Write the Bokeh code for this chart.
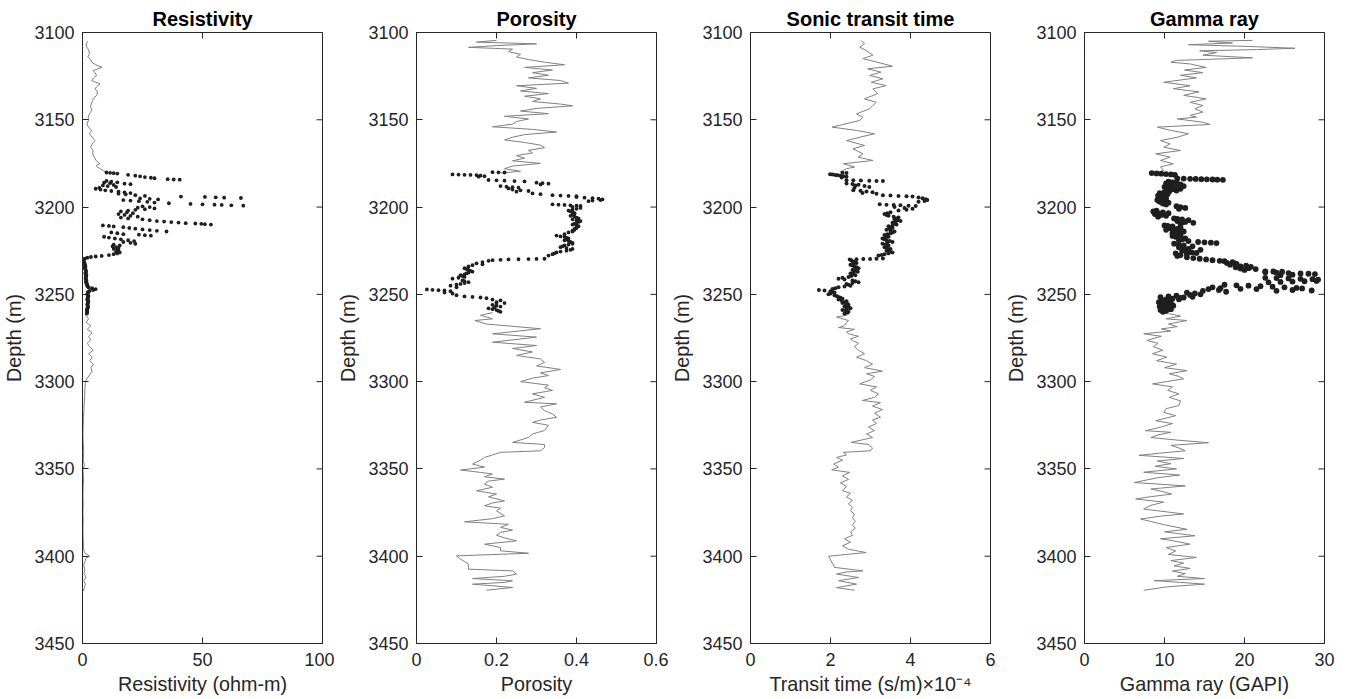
import math
from bokeh.plotting import figure
from bokeh.layouts import row
from bokeh.models import Range1d, FixedTicker
from bokeh.embed import file_html
from bokeh.resources import INLINE

# ---------------- data (depth in m) ----------------
depth_ticks = [3100, 3150, 3200, 3250, 3300, 3350, 3400, 3450]

# Resistivity (ohm-m)
res_upper = [(3105.0, 2.2), (3106.5, 1.5), (3108.4, 1.8), (3110, 2.6), (3112.2, 2.9), (3114, 2.2), (3115.5, 3.4),
             (3117, 3.8), (3118.5, 5.5), (3119.9, 8.2), (3121, 6.0), (3121.8, 4.5), (3123, 5.2), (3124.6, 5.9),
             (3126, 4.6), (3127.5, 3.8), (3128.5, 5.5), (3129.4, 7.3), (3131, 6.0), (3132.3, 5.2), (3134, 6.3),
             (3136.1, 5.9), (3137.5, 4.6), (3139, 4.2), (3141, 3.6), (3142.8, 3.4), (3144.5, 3.9), (3146.6, 2.9),
             (3148.5, 2.4), (3150.4, 2.5), (3152, 1.9), (3153.3, 2.1), (3155, 3.0), (3156.1, 3.8), (3158, 2.9),
             (3160, 4.0), (3161.9, 5.2), (3163.5, 4.1), (3165.7, 3.4), (3167.5, 4.4), (3169.5, 4.2), (3171.5, 5.0),
             (3173.3, 5.6), (3175.2, 7.3), (3176, 5.8), (3177.1, 6.2), (3178, 7.5), (3179.1, 8.6), (3180, 10.0)]
res_lower = [(3261, 1.8), (3262, 1.5), (3264, 2.5), (3266, 1.5), (3268, 3.5), (3270, 2.0), (3272, 4.0), (3274, 2.5),
             (3276, 3.5), (3278, 2.0), (3280, 3.0), (3282, 4.5), (3284, 2.5), (3286, 4.0), (3288, 3.0), (3290, 4.5),
             (3292, 3.5), (3294, 4.0), (3296, 3.0), (3298, 2.0), (3300, 1.2), (3304, 1.0), (3308, 0.9), (3312, 0.7),
             (3316, 0.6), (3320, 0.4), (3325, 0.3), (3330, 0.2), (3335, 0.3), (3340, 0.5), (3345, 0.3), (3348, 0.8),
             (3350, 0.2), (3355, 0.4), (3360, 0.3), (3365, 0.2), (3370, 0.3), (3375, 0.2), (3380, 0.3), (3385, 0.2),
             (3390, 0.3), (3395, 0.4), (3398, 0.8), (3400, 3.0), (3401, 1.5), (3403, 1.0), (3405, 0.5), (3408, 1.0),
             (3410, 0.6), (3412, 1.5), (3414, 0.5), (3416, 1.2), (3418, 0.8), (3420, 0.3)]
res_dots = [(3180.2, 10.0), (3180.4, 11.5), (3180.6, 13.0), (3180.8, 14.5), (3181.5, 19.0), (3182.0, 22.0),
            (3182.4, 24.0), (3182.8, 26.0), (3183.2, 28.5), (3183.5, 30.0), (3184.0, 35.5), (3184.2, 38.0),
            (3184.3, 40.5), (3185.0, 10.0), (3185.4, 12.0), (3185.8, 14.5), (3186.0, 9.0), (3186.3, 11.5),
            (3186.6, 17.5), (3186.9, 20.0), (3187.3, 13.0), (3187.6, 8.5), (3188.0, 10.5), (3188.5, 14.0),
            (3189.0, 7.0), (3189.5, 5.5), (3190.0, 7.5), (3190.4, 9.5), (3190.8, 12.0), (3191.2, 15.0),
            (3191.6, 17.5), (3192.0, 20.0), (3192.3, 15.0), (3192.7, 18.0), (3193.2, 22.0), (3193.6, 26.0),
            (3194.0, 41.0), (3194.2, 51.0), (3194.4, 55.5), (3194.6, 59.0), (3194.8, 66.0), (3195.0, 24.0),
            (3195.3, 28.0), (3195.6, 31.5), (3196.0, 17.0), (3196.3, 20.0), (3196.6, 23.5), (3197.0, 27.0),
            (3197.4, 30.0), (3197.8, 36.0), (3198.2, 45.0), (3198.4, 50.0), (3198.6, 55.0), (3198.8, 58.0),
            (3199.0, 62.0), (3199.2, 67.0), (3199.6, 25.0), (3200.0, 28.0), (3200.4, 23.0), (3200.8, 30.0),
            (3201.2, 26.0), (3201.6, 22.0), (3202.0, 19.0), (3202.5, 16.0), (3203.0, 18.5), (3203.5, 21.0),
            (3204.0, 15.0), (3204.5, 17.5), (3205.0, 20.0), (3205.5, 23.0), (3206.0, 16.0), (3206.5, 19.0),
            (3207.0, 25.0), (3207.5, 28.0), (3208.0, 31.0), (3208.3, 34.0), (3208.6, 37.0), (3208.9, 40.0),
            (3209.2, 43.0), (3209.4, 47.0), (3209.6, 49.5), (3209.8, 51.0), (3210.0, 53.5), (3210.5, 8.5),
            (3210.8, 11.0), (3211.1, 13.0), (3211.5, 17.0), (3212.0, 19.5), (3212.4, 22.0), (3212.8, 25.0),
            (3213.2, 28.0), (3213.6, 31.0), (3214.0, 35.0), (3214.5, 12.0), (3215.0, 14.5), (3215.5, 17.0),
            (3215.8, 23.5), (3216.1, 26.0), (3216.4, 28.5), (3217.0, 9.0), (3217.5, 11.0), (3218.0, 13.5),
            (3218.5, 16.0), (3219.0, 19.0), (3219.5, 21.5), (3220.0, 17.0), (3220.5, 20.0), (3221.0, 22.0),
            (3221.5, 13.0), (3222.0, 15.5), (3222.5, 12.5), (3223.0, 14.0), (3223.5, 15.0), (3224.0, 13.0),
            (3224.5, 14.5), (3225.0, 15.0), (3225.5, 14.0), (3226.0, 15.5), (3226.5, 14.5), (3227.0, 13.0),
            (3227.5, 11.0), (3228.0, 8.0), (3228.3, 5.5), (3228.6, 3.5), (3229.0, 2.0), (3229.5, 1.0),
            (3230.0, 0.5), (3230.5, 0.3), (3231, 0.5), (3231.5, 0.6), (3232, 0.8), (3232.5, 0.9), (3233, 1.0),
            (3233.5, 1.1), (3234, 1.2), (3234.5, 1.1), (3235, 1.0), (3235.5, 1.2), (3236, 1.3), (3236.5, 1.4),
            (3237, 1.5), (3237.5, 1.3), (3238, 1.2), (3238.5, 1.4), (3239, 1.6), (3239.5, 1.5), (3240, 1.4),
            (3240.5, 1.35), (3241, 1.3), (3241.5, 1.45), (3242, 1.6), (3242.5, 1.55), (3243, 1.5), (3243.5, 1.65),
            (3244, 1.8), (3244.5, 1.9), (3245, 2.0), (3245.5, 2.2), (3246, 2.5), (3246.5, 4.0), (3247, 5.5),
            (3247.5, 4.5), (3248, 3.0), (3248.5, 2.5), (3249, 2.2), (3249.5, 2.1), (3250, 2.0), (3250.5, 2.2),
            (3251, 2.5), (3251.5, 2.3), (3252, 2.2), (3252.5, 2.1), (3253, 2.0), (3253.5, 2.2), (3254, 2.4),
            (3254.5, 2.3), (3255, 2.2), (3255.5, 2.1), (3256, 2.0), (3256.5, 2.2), (3257, 2.3), (3257.5, 2.2),
            (3258, 2.1), (3258.5, 1.9), (3259, 1.8), (3259.5, 1.9), (3260, 2.0), (3260.5, 1.9), (3261, 1.8)]

# Porosity (fraction)
por_upper = [(3104.5, 0.20), (3105.5, 0.15), (3106.5, 0.30), (3107.5, 0.20), (3108.5, 0.13), (3109.5, 0.24),
             (3111, 0.23), (3112.5, 0.26), (3114, 0.25), (3115.5, 0.28), (3117, 0.32), (3118.5, 0.37), (3120, 0.27),
             (3121.5, 0.34), (3123, 0.29), (3124.5, 0.33), (3126, 0.28), (3127.5, 0.36), (3129, 0.38), (3130.5, 0.25),
             (3132, 0.30), (3133.5, 0.26), (3135, 0.33), (3136.5, 0.27), (3138, 0.31), (3139.5, 0.29), (3141, 0.36),
             (3142, 0.39), (3143.5, 0.30), (3145, 0.26), (3146.5, 0.33), (3148, 0.22), (3149.5, 0.28), (3151, 0.25),
             (3152.5, 0.24), (3154, 0.19), (3155.5, 0.29), (3157, 0.35), (3158.5, 0.27), (3160, 0.24), (3161.5, 0.22),
             (3163, 0.27), (3164.5, 0.31), (3166, 0.32), (3167.5, 0.28), (3169, 0.29), (3170.5, 0.25), (3172, 0.27),
             (3173.5, 0.24), (3175, 0.31), (3176.5, 0.24), (3178, 0.22), (3179.5, 0.26), (3180.5, 0.21)]
por_lower = [(3260.5, 0.19), (3262, 0.16), (3264, 0.19), (3265, 0.146), (3267, 0.175), (3269.7, 0.31),
             (3272.6, 0.19), (3274.5, 0.30), (3277.4, 0.19), (3279.3, 0.30), (3281, 0.24), (3283, 0.29), (3285, 0.25),
             (3287, 0.31), (3289, 0.32), (3291, 0.30), (3293, 0.36), (3295, 0.31), (3296.5, 0.33), (3298, 0.29),
             (3300, 0.26), (3302, 0.33), (3303.5, 0.32), (3305, 0.34), (3307, 0.29), (3309, 0.32), (3311.8, 0.27),
             (3312.7, 0.35), (3314.5, 0.31), (3316.6, 0.32), (3318.5, 0.34), (3320.4, 0.35), (3322, 0.31),
             (3323.3, 0.29), (3325, 0.33), (3328, 0.32), (3330, 0.29), (3332, 0.28), (3334.8, 0.24), (3336, 0.32),
             (3337.7, 0.32), (3339.6, 0.31), (3340.5, 0.21), (3342, 0.19), (3343.4, 0.17), (3345, 0.16),
             (3347.2, 0.14), (3349, 0.17), (3350.6, 0.11), (3352, 0.16), (3352.9, 0.19), (3354.5, 0.17),
             (3355.8, 0.22), (3357, 0.18), (3358.7, 0.17), (3360.5, 0.19), (3362.5, 0.15), (3364.4, 0.20),
             (3366, 0.18), (3368.3, 0.22), (3369.5, 0.19), (3371.1, 0.17), (3372.5, 0.21), (3374, 0.20),
             (3376.9, 0.22), (3378.5, 0.19), (3380.3, 0.12), (3381.7, 0.23), (3383.5, 0.21), (3385, 0.24),
             (3386.4, 0.21), (3388, 0.20), (3389.5, 0.22), (3391.2, 0.25), (3393.1, 0.17), (3395, 0.21),
             (3396.9, 0.21), (3398.3, 0.28), (3399.8, 0.10), (3401.7, 0.11), (3403, 0.12), (3404.6, 0.13),
             (3406, 0.13), (3407.4, 0.13), (3408.4, 0.24), (3410.3, 0.25), (3411.5, 0.22), (3412.8, 0.14),
             (3414.1, 0.24), (3415, 0.22), (3416, 0.14), (3417.9, 0.24), (3419.5, 0.175)]
por_dots = [(3180.0, 0.19), (3180.1, 0.205), (3180.2, 0.22), (3181.3, 0.09), (3181.4, 0.105), (3181.5, 0.12),
            (3181.6, 0.135), (3181.7, 0.15), (3182.0, 0.16), (3182.3, 0.17), (3182.6, 0.155), (3184.5, 0.18),
            (3184.7, 0.20), (3184.9, 0.22), (3185.1, 0.245), (3185.3, 0.27), (3186.0, 0.30), (3186.3, 0.315),
            (3186.6, 0.33), (3187.0, 0.31), (3188.0, 0.21), (3188.3, 0.225), (3188.6, 0.24), (3188.9, 0.255),
            (3189.3, 0.23), (3190.0, 0.24), (3190.4, 0.26), (3190.8, 0.28), (3191.2, 0.25), (3192.2, 0.29),
            (3192.6, 0.31), (3193.2, 0.34), (3193.4, 0.36), (3193.6, 0.38), (3193.8, 0.40), (3194.3, 0.40),
            (3194.6, 0.42), (3194.9, 0.44), (3195.2, 0.455), (3195.6, 0.465), (3196.0, 0.46), (3196.3, 0.44),
            (3196.6, 0.43), (3198.4, 0.34), (3198.6, 0.355), (3198.8, 0.37), (3199.0, 0.385), (3199.2, 0.40),
            (3199.4, 0.41), (3200.0, 0.39), (3200.5, 0.41), (3201.0, 0.40), (3201.5, 0.39), (3202.0, 0.38),
            (3202.5, 0.385), (3203, 0.39), (3203.5, 0.395), (3204, 0.395), (3204.5, 0.39), (3205, 0.385),
            (3205.5, 0.395), (3206, 0.40), (3206.5, 0.405), (3207, 0.39), (3207.5, 0.40), (3208, 0.41),
            (3208.5, 0.405), (3209, 0.40), (3209.5, 0.395), (3210, 0.39), (3210.5, 0.40), (3211, 0.405),
            (3211.5, 0.40), (3212, 0.40), (3212.5, 0.395), (3213, 0.395), (3213.5, 0.39), (3214, 0.39),
            (3214.5, 0.38), (3215.5, 0.37), (3216.3, 0.35), (3216.8, 0.36), (3217, 0.37), (3217.5, 0.375),
            (3218, 0.38), (3218.5, 0.375), (3219, 0.37), (3219.5, 0.38), (3220, 0.385), (3220.5, 0.39),
            (3221, 0.39), (3221.5, 0.38), (3222, 0.37), (3222.5, 0.365), (3223, 0.36), (3223.5, 0.375),
            (3224, 0.39), (3224.5, 0.385), (3225, 0.375), (3225.5, 0.36), (3226, 0.35), (3226.5, 0.345),
            (3227, 0.34), (3227.8, 0.33), (3229.6, 0.32), (3229.7, 0.30), (3229.8, 0.28), (3229.9, 0.255),
            (3230.0, 0.23), (3230.2, 0.21), (3230.4, 0.19), (3230.8, 0.18), (3231.5, 0.165), (3232.2, 0.15),
            (3232.8, 0.165), (3233.3, 0.14), (3234, 0.13), (3235, 0.12), (3235.5, 0.125), (3236, 0.13),
            (3236.5, 0.135), (3237, 0.14), (3237.5, 0.13), (3238, 0.125), (3238.5, 0.12), (3239, 0.11),
            (3239.5, 0.115), (3240, 0.12), (3240.5, 0.105), (3241, 0.09), (3242, 0.115), (3242.5, 0.12),
            (3243, 0.13), (3243.5, 0.12), (3244, 0.11), (3244.5, 0.10), (3245, 0.085), (3246, 0.10),
            (3247.2, 0.026), (3247.4, 0.04), (3247.6, 0.055), (3247.8, 0.07), (3248.2, 0.085), (3249, 0.07),
            (3249.5, 0.09), (3250.5, 0.10), (3251.2, 0.12), (3251.5, 0.14), (3251.8, 0.16), (3252.2, 0.175),
            (3253, 0.19), (3253.5, 0.21), (3254.5, 0.20), (3255, 0.22), (3255.5, 0.20), (3256, 0.19),
            (3256.5, 0.20), (3257, 0.21), (3257.5, 0.195), (3258, 0.18), (3258.5, 0.19), (3259, 0.20),
            (3259.5, 0.205), (3260, 0.21)]

# Sonic transit time (units of 1e-4 s/m)
dt_upper = [(3104.6, 2.77), (3106.5, 2.85), (3108.4, 2.73), (3110.3, 2.89), (3113, 3.06), (3115, 2.81),
            (3116.9, 3.15), (3119.3, 3.55), (3120.8, 2.93), (3122.7, 3.26), (3124.6, 2.98), (3126.5, 3.31),
            (3128.5, 3.02), (3130.4, 3.39), (3132.3, 3.06), (3135, 3.18), (3138, 2.85), (3140, 3.14),
            (3141.8, 3.06), (3143.7, 2.98), (3146.6, 2.65), (3148.5, 2.81), (3150.4, 2.73), (3154.2, 2.04),
            (3156.1, 2.65), (3158, 3.10), (3160, 2.73), (3161.9, 2.40), (3164.7, 2.85), (3166.6, 2.56),
            (3169.5, 2.81), (3171.4, 2.69), (3173.3, 3.06), (3175.2, 2.32), (3177.1, 2.60), (3178, 2.40),
            (3180, 2.23)]
dt_lower = [(3261.5, 2.35), (3262, 2.40), (3263, 2.15), (3265, 2.45), (3266, 2.40), (3268, 2.35), (3269, 2.20),
            (3270, 2.60), (3271.5, 2.40), (3272.6, 2.45), (3274, 2.70), (3275.5, 2.50), (3276.4, 2.55), (3278, 2.70),
            (3280, 2.60), (3282, 2.70), (3284, 2.85), (3286, 2.65), (3288, 2.90), (3290, 3.05), (3292, 2.85),
            (3294, 3.30), (3295.5, 2.90), (3297, 3.10), (3299, 3.00), (3301.3, 2.73), (3303, 3.15), (3305, 3.00),
            (3307, 3.20), (3309, 3.10), (3310.8, 2.80), (3312, 3.25), (3314, 3.05), (3316, 3.30), (3318, 3.10),
            (3320.4, 3.25), (3322, 3.05), (3324, 3.15), (3326, 2.95), (3328, 3.10), (3330, 2.90), (3332, 3.05),
            (3334.8, 2.52), (3336, 2.95), (3338, 3.05), (3339.6, 3.00), (3340.5, 2.32), (3342, 2.40),
            (3343.4, 2.15), (3345, 2.30), (3347.2, 2.08), (3349, 2.20), (3350.5, 2.03), (3352, 2.48), (3354, 2.30),
            (3356, 2.45), (3358, 2.25), (3360, 2.40), (3362.5, 2.30), (3364, 2.50), (3366, 2.40), (3368, 2.55),
            (3370, 2.45), (3372, 2.55), (3374, 2.50), (3376, 2.60), (3378, 2.55), (3380, 2.62), (3382, 2.55),
            (3384, 2.62), (3386, 2.50), (3388, 2.55), (3390, 2.35), (3392, 2.50), (3394, 2.30), (3396, 2.45),
            (3397.9, 2.89), (3400, 1.95), (3402, 2.00), (3404, 2.05), (3406.4, 2.10), (3408.4, 2.81), (3409, 2.40),
            (3410.2, 2.15), (3412.2, 2.70), (3414, 2.20), (3416, 2.65), (3418, 2.15), (3419.5, 2.60)]
dt_dots = [(3180.3, 2.30), (3180.5, 2.40), (3181.2, 1.99), (3181.4, 2.05), (3181.6, 2.12), (3181.8, 2.18),
           (3182.0, 2.25), (3182.3, 2.32), (3182.6, 2.40), (3183.0, 2.28), (3184.6, 2.40), (3184.7, 2.57),
           (3184.8, 2.76), (3184.9, 2.97), (3185.0, 3.15), (3185.1, 3.31), (3186.5, 2.40), (3186.8, 2.55),
           (3187.2, 2.70), (3187.6, 2.62), (3188.0, 2.85), (3188.5, 2.97), (3189.0, 2.60), (3190.3, 2.57),
           (3190.7, 2.75), (3191.1, 2.90), (3191.5, 3.05), (3191.9, 2.80), (3192.3, 3.15), (3193.2, 3.31),
           (3193.4, 3.50), (3193.6, 3.70), (3193.8, 3.90), (3194.0, 4.05), (3194.5, 4.20), (3195.0, 4.30),
           (3195.5, 4.38), (3196.0, 4.42), (3196.5, 4.35), (3197.0, 4.20), (3198.4, 3.23), (3198.6, 3.40),
           (3198.8, 3.58), (3199.0, 3.75), (3199.2, 3.95), (3199.4, 4.13), (3200.0, 3.60), (3200.5, 3.85),
           (3201.0, 4.05), (3201.5, 3.90), (3202.0, 3.70), (3203, 3.50), (3203.5, 3.42), (3204, 3.35),
           (3204.5, 3.40), (3205, 3.45), (3205.5, 3.58), (3206, 3.70), (3206.5, 3.65), (3207, 3.60),
           (3207.5, 3.68), (3208, 3.75), (3208.5, 3.62), (3209, 3.55), (3209.5, 3.60), (3210, 3.65),
           (3210.5, 3.55), (3211, 3.45), (3211.5, 3.50), (3212, 3.55), (3212.5, 3.48), (3213, 3.40),
           (3213.5, 3.50), (3214, 3.60), (3214.5, 3.55), (3215, 3.50), (3215.5, 3.42), (3216, 3.35),
           (3216.5, 3.40), (3217, 3.45), (3217.5, 3.38), (3218, 3.30), (3218.5, 3.35), (3219, 3.40),
           (3219.5, 3.48), (3220, 3.55), (3220.5, 3.42), (3221, 3.30), (3221.5, 3.38), (3222, 3.45),
           (3222.5, 3.40), (3223, 3.35), (3223.5, 3.42), (3224, 3.50), (3224.5, 3.45), (3225, 3.40),
           (3225.5, 3.48), (3226, 3.55), (3226.5, 3.45), (3227, 3.35), (3227.4, 3.28), (3227.8, 3.20),
           (3229.5, 3.31), (3229.6, 3.15), (3229.7, 2.99), (3229.8, 2.82), (3229.9, 2.65), (3230.0, 2.48),
           (3230.5, 2.52), (3231, 2.55), (3231.5, 2.60), (3232, 2.65), (3232.5, 2.58), (3233, 2.50),
           (3233.5, 2.55), (3234, 2.60), (3234.5, 2.65), (3235, 2.70), (3235.5, 2.62), (3236, 2.55),
           (3236.5, 2.60), (3237, 2.68), (3237.5, 2.58), (3238, 2.50), (3238.5, 2.55), (3239, 2.62),
           (3239.5, 2.52), (3240, 2.45), (3240.5, 2.30), (3241, 2.20), (3241.5, 2.35), (3242, 2.55),
           (3242.5, 2.62), (3243, 2.70), (3243.5, 2.55), (3244, 2.40), (3244.5, 2.45), (3245, 2.50),
           (3245.5, 2.35), (3246, 2.20), (3246.5, 2.12), (3247, 2.05), (3247.5, 1.71), (3247.8, 1.85),
           (3248.2, 2.00), (3248.6, 2.05), (3249, 2.10), (3249.5, 2.00), (3250, 1.95), (3250.5, 2.10),
           (3251, 2.15), (3251.5, 2.20), (3252, 2.25), (3252.5, 2.30), (3253, 2.20), (3253.5, 2.28),
           (3254, 2.40), (3254.5, 2.35), (3255, 2.30), (3255.5, 2.42), (3256, 2.45), (3256.5, 2.38),
           (3257, 2.35), (3257.5, 2.45), (3258, 2.50), (3258.5, 2.40), (3259, 2.30), (3259.5, 2.38),
           (3260, 2.45), (3260.5, 2.42), (3261, 2.35)]

# Gamma ray (GAPI)
gr_upper = [(3104.5, 21.0), (3105, 15.5), (3106, 18.5), (3107, 13.0), (3108, 20.5), (3109, 26.3), (3109.8, 21.5),
            (3110.5, 14.4), (3111.5, 16.5), (3113, 14.8), (3114.5, 21.0), (3116, 11.5), (3117, 10.8), (3118, 13.2),
            (3120, 15.2), (3121.5, 12.5), (3123, 14.8), (3124.5, 12.0), (3126, 14.0), (3128.5, 9.9), (3130.5, 13.2),
            (3132.2, 11.1), (3134, 14.3), (3136, 12.4), (3138, 15.2), (3140, 13.2), (3141.8, 14.8), (3143.7, 13.8),
            (3145.6, 14.8), (3147.5, 13.2), (3148.5, 14.0), (3149.5, 11.6), (3151.4, 14.8), (3152.7, 15.7),
            (3154.2, 9.1), (3156, 10.7), (3158, 13.0), (3160, 11.6), (3161.9, 9.5), (3163.8, 10.7), (3165.7, 9.9),
            (3167.6, 12.0), (3169.5, 8.9), (3171.4, 10.7), (3173.3, 9.5), (3175.2, 11.1), (3177, 9.5), (3179, 9.9),
            (3180.5, 9.0)]
gr_lower = [(3261, 10.5), (3262.5, 12.0), (3264, 10.2), (3265, 12.8), (3267, 10.5), (3268.5, 11.6), (3269.8, 9.6),
            (3271, 10.8), (3272.6, 7.4), (3274, 9.6), (3276.4, 7.8), (3278, 9.2), (3280, 8.6), (3282, 9.8),
            (3284, 8.5), (3286, 10.3), (3288, 9.0), (3290, 11.5), (3292, 10.0), (3293.7, 12.8), (3295.5, 10.6),
            (3297, 11.8), (3298.4, 12.4), (3300, 10.2), (3301.3, 8.5), (3303, 11.0), (3305, 10.4), (3307, 11.8),
            (3309, 10.6), (3311, 12.0), (3313.7, 11.8), (3315.5, 10.2), (3317.6, 9.9), (3319.5, 11.4),
            (3322.4, 8.9), (3324, 11.0), (3326, 9.6), (3328.1, 7.6), (3329, 10.8), (3330.5, 9.2), (3332, 8.3),
            (3333.5, 11.6), (3335, 15.5), (3336.5, 10.8), (3338, 11.8), (3339.6, 12.6), (3341, 9.4), (3342.2, 6.8),
            (3344, 12.4), (3345.5, 9.1), (3347, 10.8), (3348.5, 8.8), (3350, 11.5), (3351.9, 7.4), (3353.5, 11.9),
            (3355, 9.2), (3357.8, 6.2), (3359.7, 12.6), (3361.5, 8.3), (3363, 9.8), (3364.4, 10.9), (3366, 8.1),
            (3367.2, 6.4), (3369, 9.9), (3371, 8.2), (3373, 7.4), (3375.8, 12.4), (3377, 9.6), (3378.7, 7.0),
            (3380, 8.2), (3382, 10.0), (3384.6, 12.8), (3386, 10.0), (3388.3, 13.8), (3390, 9.5), (3391.5, 11.5),
            (3393.1, 13.2), (3395, 10.2), (3397, 11.4), (3399, 10.5), (3400.7, 14.0), (3402.5, 10.8), (3404, 12.4),
            (3405.5, 11.2), (3407, 13.2), (3408.5, 11.0), (3410, 12.6), (3411.5, 11.6), (3412.8, 15.0),
            (3414, 8.7), (3415, 12.0), (3416, 15.0), (3417.5, 10.4), (3419.5, 7.4)]
gr_dots = [(3180.5, 8.4), (3180.7, 9.0), (3180.9, 9.6), (3181.1, 10.2), (3181.3, 10.8), (3181.5, 11.3),
           (3183.6, 11.6), (3183.7, 12.4), (3183.8, 13.2), (3183.9, 13.9), (3184.0, 14.6), (3184.1, 15.3),
           (3184.2, 16.0), (3184.3, 16.6), (3184.4, 17.3), (3185.5, 10.5), (3185.8, 11.0), (3186, 11.5),
           (3186.5, 10.2), (3186.8, 10.8), (3187, 12.0), (3187.5, 11.0), (3187.8, 11.8), (3188, 12.4),
           (3188.5, 10.0), (3188.8, 10.6), (3189, 11.2), (3189.5, 12.0), (3189.8, 11.0), (3190, 10.4),
           (3190.5, 11.5), (3191, 10.6), (3191.5, 10.0), (3192, 9.4), (3192.5, 10.4), (3192.8, 9.6), (3193, 9.8),
           (3193.5, 9.2), (3193.8, 9.6), (3194, 10.0), (3194.5, 9.5), (3194.8, 9.8), (3195, 10.2), (3195.5, 9.6),
           (3195.8, 9.4), (3196, 9.1), (3196.5, 10.0), (3196.8, 9.8), (3197, 9.4), (3197.5, 10.5), (3197.8, 10.0),
           (3198, 9.8), (3198.5, 10.2), (3199.5, 11.5), (3200, 12.0), (3200.5, 12.6), (3201, 11.8), (3202, 9.0),
           (3202.5, 8.6), (3203, 9.8), (3203.5, 10.5), (3203.8, 9.4), (3204, 8.8), (3204.5, 9.6), (3204.8, 9.2),
           (3205, 10.2), (3205.5, 9.2), (3206.5, 11.2), (3206.8, 11.6), (3207, 12.2), (3207.5, 13.0),
           (3208, 11.6), (3208.5, 12.6), (3208.8, 12.2), (3209, 13.6), (3209.5, 12.0), (3210.5, 10.0),
           (3210.8, 10.4), (3211, 11.0), (3211.5, 12.0), (3212, 10.6), (3212.5, 11.6), (3212.8, 11.0),
           (3213, 10.2), (3213.5, 11.2), (3213.8, 11.8), (3214, 12.4), (3215, 11.0), (3215.5, 11.6), (3216, 12.0),
           (3216.5, 11.0), (3217, 11.4), (3217.5, 12.0), (3218, 12.6), (3218.5, 12.2), (3219, 11.8),
           (3219.5, 13.0), (3220, 14.2), (3220.2, 15.0), (3220.4, 15.8), (3220.6, 16.5), (3221, 11.2),
           (3221.5, 11.8), (3222, 12.4), (3222.5, 13.5), (3223, 11.8), (3223.5, 12.4), (3224, 13.0),
           (3224.5, 14.5), (3225, 12.2), (3225.5, 12.8), (3226, 13.4), (3226.3, 14.0), (3226.5, 11.4),
           (3227, 12.8), (3227.5, 12.0), (3228, 11.6), (3228.8, 12.8), (3229.2, 13.6), (3229.6, 14.4),
           (3230, 15.2), (3230.4, 16.0), (3230.8, 16.9), (3231, 17.5), (3231.5, 18.5), (3232, 17.8),
           (3232.2, 18.8), (3232.5, 19.0), (3233, 18.2), (3233.5, 20.2), (3233.8, 19.0), (3234, 19.5),
           (3234.2, 20.8), (3234.5, 18.9), (3235, 20.5), (3235.2, 19.5), (3235.5, 21.4), (3236, 20.0),
           (3236.8, 22.6), (3236.9, 23.6), (3237, 24.7), (3237.4, 22.6), (3237.6, 24.0), (3237.8, 25.5),
           (3238, 27.0), (3238.2, 28.0), (3238.4, 28.8), (3238.7, 26.0), (3239, 24.5), (3240.5, 22.6),
           (3240.7, 24.0), (3240.9, 25.5), (3241.1, 27.0), (3241.3, 28.5), (3241.5, 29.2), (3242.3, 29.0),
           (3242.5, 27.5), (3242.7, 26.0), (3242.9, 24.5), (3243.1, 23.0), (3244.5, 17.5), (3244.8, 19.0),
           (3245, 20.5), (3245.3, 22.0), (3245.6, 23.5), (3246, 25.0), (3246.3, 26.5), (3246.6, 27.2),
           (3247.5, 26.0), (3247.8, 28.4), (3248, 24.0), (3247, 21.5), (3246.8, 19.5), (3246, 16.0),
           (3246.5, 17.0), (3247, 15.5), (3247.5, 16.8), (3248, 14.8), (3248.5, 17.7), (3249, 12.8),
           (3249.5, 13.8), (3250, 14.5), (3250.3, 13.2), (3250.8, 11.5), (3251.2, 10.5), (3251.4, 13.5),
           (3251.6, 9.5), (3251.8, 12.4), (3252, 12.0), (3252.5, 11.0), (3252.8, 11.8), (3253, 10.2),
           (3253.5, 9.8), (3254, 10.5), (3254.2, 10.0), (3254.5, 9.3), (3255, 10.8), (3255.2, 10.2),
           (3255.5, 9.6), (3256, 10.2), (3256.2, 9.6), (3256.5, 11.1), (3257, 9.4), (3257.2, 10.0),
           (3257.5, 10.4), (3258, 9.8), (3258.2, 10.4), (3258.5, 10.8), (3259, 9.5), (3259.2, 10.0),
           (3259.5, 10.2), (3260, 9.8)]

# ---------------- styling ----------------
FONT = "Liberation Sans"
AXC = "#262626"
LINE_C = "#808080"
DOT_C = "#1f1f1f"
Y_TOP, Y_BOTTOM = 3100, 3450


def split(pairs):
    return [p[1] for p in pairs], [p[0] for p in pairs]


def style_axis(ax):
    ax.major_tick_in = 6
    ax.major_tick_out = 0
    ax.minor_tick_line_color = None
    ax.axis_line_color = AXC
    ax.major_tick_line_color = AXC
    ax.major_label_text_color = AXC
    ax.major_label_text_font = FONT
    ax.major_label_text_font_size = "18px"
    ax.axis_label_text_font = FONT
    ax.axis_label_text_font_size = "19.8px"
    ax.axis_label_text_font_style = "normal"
    ax.axis_label_text_color = AXC


def panel(title, xlabel, xmax, xticks, xlabels, upper, lower, dots, dot_size, label_align="center"):
    p = figure(width=334, height=699, x_range=Range1d(0, xmax), y_range=Range1d(Y_BOTTOM, Y_TOP),
               output_backend="svg", toolbar_location=None,
               min_border_left=79, min_border_right=12, min_border_top=32, min_border_bottom=56,
               x_axis_label=xlabel, y_axis_label="Depth (m)")
    p.grid.visible = False
    p.outline_line_color = AXC
    p.background_fill_color = "white"
    p.border_fill_color = "white"

    p.title.text = title
    p.title.align = "center"
    p.title.text_font = FONT
    p.title.text_font_size = "20px"
    p.title.text_font_style = "bold"
    p.title.text_color = "#000000"
    p.title.standoff = 6

    xa = p.xaxis[0]
    ya = p.yaxis[0]
    xa.ticker = FixedTicker(ticks=xticks)
    xa.major_label_overrides = {t: l for t, l in zip(xticks, xlabels)}
    ya.ticker = FixedTicker(ticks=depth_ticks)
    style_axis(xa)
    style_axis(ya)
    xa.major_label_standoff = 9
    xa.axis_label_standoff = 4
    ya.major_label_standoff = 8
    ya.axis_label_standoff = 6
    if label_align != "center":
        try:
            xa.axis_label_align = label_align
        except Exception:
            pass

    # inward tick marks on the top and right frame edges (box-style axes)
    p.scatter(xticks, [Y_TOP] * len(xticks), marker="dash", size=12, angle=math.pi / 2,
              line_color=AXC, line_width=1)
    p.scatter([xmax] * len(depth_ticks), depth_ticks, marker="dash", size=12,
              line_color=AXC, line_width=1)

    for seg in (upper, lower):
        xs, ys = split(seg)
        p.line(xs, ys, line_color=LINE_C, line_width=1)
    xs, ys = split(dots)
    p.scatter(xs, ys, size=dot_size, fill_color=DOT_C, line_color=None)
    return p


p1 = panel("Resistivity", "Resistivity (ohm-m)", 100, [0, 50, 100], ["0", "50", "100"],
           res_upper, res_lower, res_dots, 3.8)
p2 = panel("Porosity", "Porosity", 0.6, [0, 0.2, 0.4, 0.6], ["0", "0.2", "0.4", "0.6"],
           por_upper, por_lower, por_dots, 3.8)
p3 = panel("Sonic transit time", "Transit time (s/m)\u00d710\u207b\u2074", 6, [0, 2, 4, 6],
           ["0", "2", "4", "6"], dt_upper, dt_lower, dt_dots, 4.0, label_align="right")
p4 = panel("Gamma ray", "Gamma ray (GAPI)", 30, [0, 10, 20, 30], ["0", "10", "20", "30"],
           gr_upper, gr_lower, gr_dots, 5.8)

layout = row(p1, p2, p3, p4, spacing=0)
open("out.html", "w").write(file_html(layout, INLINE))
